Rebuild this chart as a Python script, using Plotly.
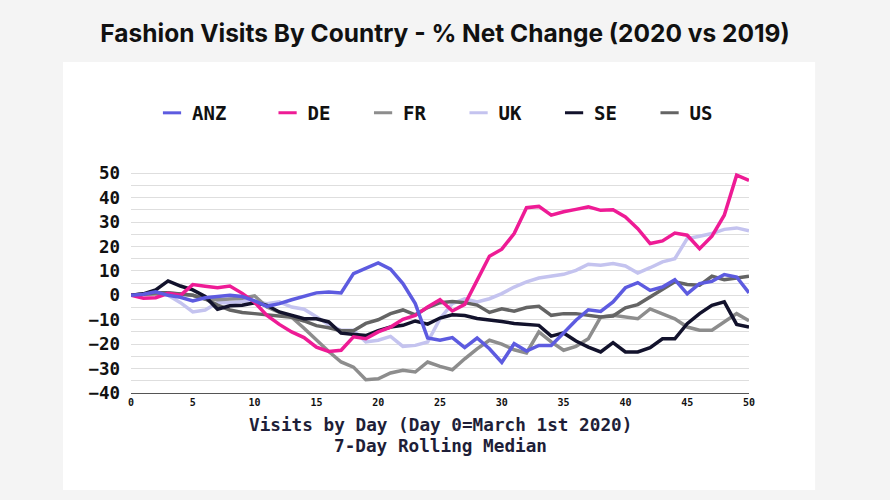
import plotly.graph_objects as go

days = list(range(51))
series_names = ["ANZ", "DE", "FR", "UK", "SE", "US"]
ANZ = [0, 0.4, 1.4, 0, -0.8, -2.3, -1, -0.5, 0, -0.5, -2.3,
       -4.5, -3.4, -1.8, -0.5, 1, 1.4, 1, 8.9, 11, 13.3,
       10.7, 4.8, -3.4, -17.5, -18.4, -17.3, -21.4, -17.5, -21.9, -27.5,
       -19.8, -22.8, -20.5, -20.5, -15.4, -10.2, -5.9, -6.6, -2.7, 3.1,
       5.2, 2, 3.4, 6.4, 0.6, 4.8, 5.7, 8.5, 7.5, 1]
DE = [0, -1.2, -1, 0.8, 0, 4.4, 3.7, 3.1, 3.8, 0.8, -2.9,
      -8.2, -11.9, -15, -17.3, -21.2, -23, -22.5, -17, -17.8, -15,
      -13, -9.8, -8.2, -4.8, -1.8, -6.4, -3.7, 6.1, 16, 18.9,
      25.3, 35.9, 36.4, 32.8, 34.2, 35.2, 36.2, 34.8, 35, 32.1,
      27.3, 21.2, 22.3, 25.5, 24.6, 19.1, 24.2, 32.8, 49.2, 47.1]
FR = [0, 0.3, 0.5, 0.8, 0.5, 0, -1.5, -1.8, -1.5, -1.2, -0.2,
      -4.8, -7, -9, -13.5, -18.5, -23, -27.3, -29.4, -34.6, -34.2,
      -31.8, -30.7, -31.4, -27.3, -29.1, -30.5, -26, -21.9, -18.4, -20,
      -22.3, -23.6, -15, -19.1, -22.5, -20.9, -17.8, -8.9, -8.2, -8.9,
      -9.6, -5.6, -7.5, -9.6, -13, -14.3, -14.3, -10.9, -7.5, -10.4]
UK = [0, 0.5, 1, 0, -3, -6.8, -6, -3, -3, -2.5, -2.5,
      -3.4, -2.7, -4.8, -5.7, -8.8, -12, -14.3, -14.3, -19.1, -18.4,
      -16.8, -20.9, -20.5, -19.1, -9.6, -3.4, -1.4, -2.7, -1.4, 0.7,
      3.4, 5.5, 7.1, 7.8, 8.6, 10.2, 12.7, 12.3, 13, 12,
      9.1, 11.3, 13.7, 15, 23.2, 24.2, 25.3, 27, 27.6, 26.4]
SE = [0, 0.6, 2.2, 5.9, 3.8, 2.2, -0.5, -5.7, -4.3, -4.1, -3.1,
      -4.1, -6.8, -8.2, -9.6, -9.6, -10.9, -15.5, -16, -16.5, -14.5,
      -13, -12.3, -10.5, -11.8, -9.3, -8, -8.3, -9.5, -10, -10.7,
      -11.5, -12, -12.3, -16.7, -15.4, -18.7, -21.2, -23.2, -19.4, -23.2,
      -23.2, -21.4, -17.8, -17.8, -11.6, -7.5, -4.1, -2.7, -11.9, -13]
US = [0, 0.5, 1, 1, 0.5, 0, -1.5, -4, -6, -7, -7.5,
      -8, -8.2, -9, -10.5, -12.4, -13.3, -14.5, -14.5, -11.5, -10,
      -7.5, -6, -8, -5, -3, -2.5, -3, -4, -7, -5.5,
      -6.5, -5, -4.5, -8.2, -7.5, -7.5, -8.2, -8.9, -8.5, -5.1,
      -3.8, -0.7, 2, 5.5, 4.4, 4.1, 7.8, 6.4, 7.1, 7.8]
x_title_lines = ["Visits by Day (Day 0=March 1st 2020)", "7-Day Rolling Median"]
title_text = "Fashion Visits By Country - % Net Change (2020 vs 2019)"

colors = {"ANZ": "#5d5be0", "DE": "#ee1b95", "FR": "#8d8d8d",
          "UK": "#c4c3ef", "SE": "#12122c", "US": "#646464"}
draw_order = ["UK", "FR", "US", "SE", "DE", "ANZ"]
data = {"ANZ": ANZ, "DE": DE, "FR": FR, "UK": UK, "SE": SE, "US": US}

mono = "DejaVu Sans Mono"
fig = go.Figure()
for name in draw_order:
    fig.add_trace(go.Scatter(x=days, y=data[name], mode="lines", name=name,
                             line=dict(color=colors[name], width=3.5),
                             showlegend=False, hoverinfo="skip"))
for i, name in enumerate(series_names):
    fig.add_trace(go.Scatter(x=[None], y=[None], mode="markers", name=name,
                             legend="legend" if i == 0 else "legend2",
                             marker=dict(symbol="line-ew-open", size=13, color=colors[name],
                                         line=dict(color=colors[name], width=3)),
                             showlegend=True))

fig.add_shape(type="rect", xref="paper", yref="paper",
              x0=-0.110, x1=1.107, y0=-0.418, y1=1.427,
              fillcolor="white", line=dict(width=0), layer="below")

for txt, yy in zip(x_title_lines, [-0.138, -0.229]):
    fig.add_annotation(text=txt, xref="paper", yref="paper", x=0.5, y=yy,
                       xanchor="center", yanchor="middle", showarrow=False,
                       font=dict(family=mono, size=17.7, color="#1e1e38", weight="bold"))

leg_font = dict(family=mono, size=19, color="#111111", weight="bold")
fig.update_layout(
    width=890, height=500,
    margin=dict(l=131, r=141, t=161, b=107),
    paper_bgcolor="#f4f4f4", plot_bgcolor="rgba(0,0,0,0)",
    title=dict(text="<b>" + title_text + "</b>",
               x=0.5, xanchor="center", y=0.934, yanchor="middle",
               font=dict(family="Inter", size=24.5, color="#111111")),
    legend=dict(orientation="h", x=0.034, xanchor="left", y=1.207, yanchor="middle",
                font=leg_font, bgcolor="rgba(0,0,0,0)"),
    legend2=dict(orientation="h", x=0.221, xanchor="left", y=1.207, yanchor="middle",
                 font=leg_font, entrywidth=50.5, entrywidthmode="pixels",
                 bgcolor="rgba(0,0,0,0)"),
    xaxis=dict(range=[0, 50], tickmode="linear", tick0=0, dtick=5,
               showgrid=False, zeroline=False, showline=True, linecolor="#555555",
               linewidth=1, ticks="",
               tickfont=dict(family=mono, size=10, color="#111111", weight="bold")),
    yaxis=dict(range=[-40, 55], tickmode="linear", tick0=0, dtick=10,
               showgrid=True, gridcolor="#dedede", gridwidth=1,
               minor=dict(dtick=5, tick0=0, showgrid=True, gridcolor="#dedede", gridwidth=1),
               zeroline=False, ticks="", ticklabelstandoff=10,
               tickfont=dict(family=mono, size=17.5, color="#111111", weight="bold")),
    showlegend=True,
)
fig.write_html("out.html")
